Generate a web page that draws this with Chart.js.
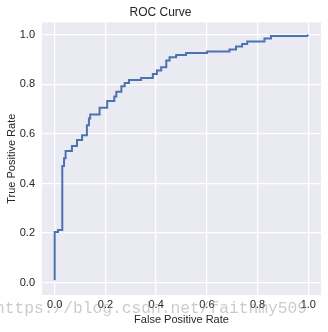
<!DOCTYPE html>
<html>
<head>
<meta charset="utf-8">
<script src="https://cdn.jsdelivr.net/npm/chart.js@4/dist/chart.umd.min.js"></script>
<style>
  html, body { margin: 0; padding: 0; background: #fff; }
  #wrap { width: 328px; height: 332px; }
</style>
</head>
<body>
<div id="wrap"><canvas id="roc" width="328" height="332"></canvas></div>
<script>
// ROC points (corners of the step curve)
const fpr = [0, 0, 0.013, 0.013, 0.030, 0.030, 0.037, 0.037, 0.043, 0.043,
  0.068, 0.068, 0.088, 0.088, 0.108, 0.108, 0.127, 0.127, 0.135, 0.135,
  0.140, 0.140, 0.177, 0.177, 0.207, 0.207, 0.235, 0.235, 0.243, 0.243,
  0.263, 0.263, 0.276, 0.276, 0.293, 0.293, 0.341, 0.341, 0.387, 0.387,
  0.403, 0.403, 0.420, 0.420, 0.440, 0.440, 0.453, 0.453, 0.479, 0.479,
  0.518, 0.518, 0.601, 0.601, 0.689, 0.689, 0.715, 0.715, 0.739, 0.739,
  0.759, 0.759, 0.827, 0.827, 0.853, 0.853, 0.995, 1.0];
const tpr = [0.01, 0.204, 0.204, 0.212, 0.212, 0.471, 0.471, 0.502, 0.502, 0.531,
  0.531, 0.551, 0.551, 0.575, 0.575, 0.595, 0.595, 0.635, 0.635, 0.662,
  0.662, 0.678, 0.678, 0.706, 0.706, 0.733, 0.733, 0.751, 0.751, 0.770,
  0.770, 0.792, 0.792, 0.805, 0.805, 0.818, 0.818, 0.826, 0.826, 0.842,
  0.842, 0.856, 0.856, 0.869, 0.869, 0.896, 0.896, 0.909, 0.909, 0.918,
  0.918, 0.927, 0.927, 0.933, 0.933, 0.941, 0.941, 0.953, 0.953, 0.963,
  0.963, 0.973, 0.973, 0.985, 0.985, 0.995, 0.995, 1.0];
const tickValues = [0, 0.2, 0.4, 0.6, 0.8, 1.0];
const watermark = 'https://blog.csdn.net/faithmy509';

const textColor = '#262626';
const fontFamily = '"Liberation Sans", Arial, sans-serif';

const bgPlugin = {
    id: 'areaBg',
    beforeDraw(chart) {
        const a = chart.chartArea;
        const ctx = chart.ctx;
        ctx.save();
        ctx.fillStyle = '#EAEAF2';
        ctx.fillRect(a.left, a.top, a.right - a.left, a.bottom - a.top);
        ctx.restore();
    }
};

const markPlugin = {
    id: 'watermark',
    afterDraw(chart) {
        const ctx = chart.ctx;
        ctx.save();
        // squeeze the watermark so it ends around x=312
        ctx.font = '17px "Liberation Mono", monospace';
        const w = ctx.measureText(watermark).width;
        const size = 17 * 312 / w;
        ctx.font = size.toFixed(2) + 'px "Liberation Mono", monospace';
        ctx.fillStyle = 'rgba(140,140,140,0.45)';
        ctx.textBaseline = 'middle';
        ctx.textAlign = 'left';
        ctx.fillText(watermark, -5, 309);
        ctx.restore();
    }
};

const points = fpr.map((x, i) => ({ x: x, y: tpr[i] }));

new Chart(document.getElementById('roc'), {
    type: 'scatter',
    data: {
        datasets: [{
            data: points,
            showLine: true,
            borderColor: '#4C72B0',
            borderWidth: 2,
            pointRadius: 0,
            fill: false
        }]
    },
    options: {
        responsive: false,
        animation: false,
        layout: { padding: { left: 0, right: 7, top: 0, bottom: 0 } },
        plugins: {
            legend: { display: false },
            tooltip: { enabled: false },
            title: {
                display: true,
                text: 'ROC Curve',
                color: textColor,
                font: { family: fontFamily, size: 12, weight: 'normal' },
                padding: { top: 5, bottom: 3 }
            }
        },
        scales: {
            x: {
                type: 'linear',
                min: -0.05,
                max: 1.05,
                afterBuildTicks(scale) {
                    scale.ticks = tickValues.map(v => ({ value: v }));
                },
                afterFit(scale) { scale.height = 37; },
                border: { display: false },
                grid: { color: '#ffffff', lineWidth: 1.3, drawTicks: false },
                ticks: {
                    color: textColor,
                    padding: 3,
                    font: { family: fontFamily, size: 11 },
                    callback: v => v.toFixed(1)
                },
                title: {
                    display: true,
                    text: 'False Positive Rate',
                    color: textColor,
                    font: { family: fontFamily, size: 11 },
                    padding: { top: 0, bottom: 5 }
                }
            },
            y: {
                type: 'linear',
                min: -0.05,
                max: 1.05,
                afterBuildTicks(scale) {
                    scale.ticks = tickValues.map(v => ({ value: v }));
                },
                afterFit(scale) { scale.width = 42; },
                border: { display: false },
                grid: { color: '#ffffff', lineWidth: 1.3, drawTicks: false },
                ticks: {
                    color: textColor,
                    padding: 7,
                    font: { family: fontFamily, size: 11 },
                    callback: v => v.toFixed(1)
                },
                title: {
                    display: true,
                    text: 'True Positive Rate',
                    color: textColor,
                    font: { family: fontFamily, size: 11 },
                    padding: { top: 5, bottom: 0 }
                }
            }
        }
    },
    plugins: [bgPlugin, markPlugin]
});
</script>
</body>
</html>
